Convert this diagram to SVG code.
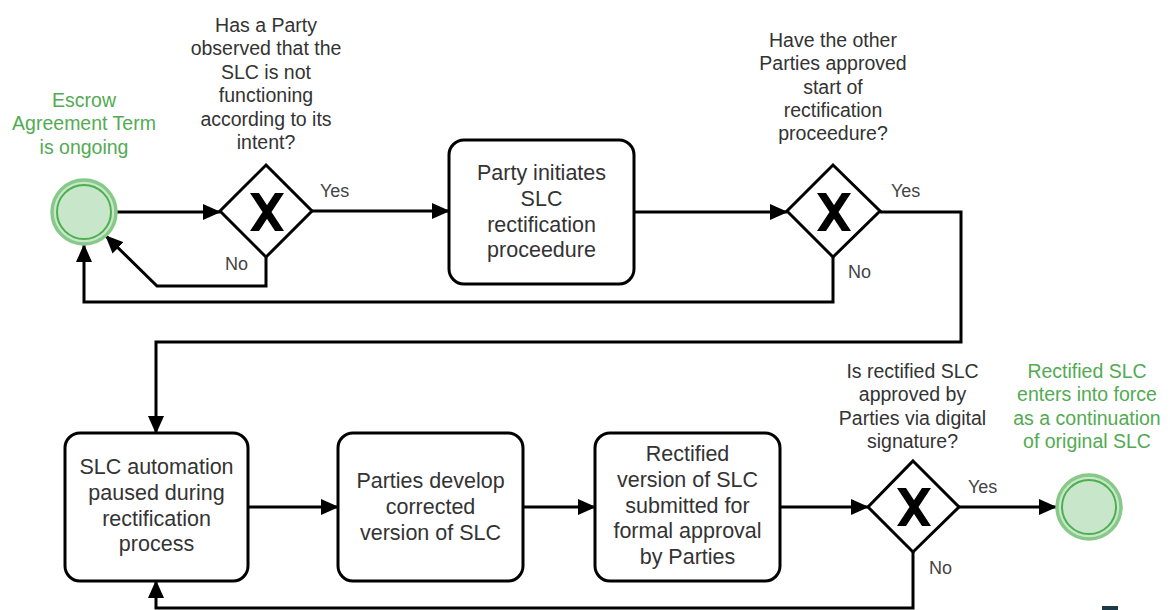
<svg xmlns="http://www.w3.org/2000/svg" width="1170" height="610" viewBox="0 0 1170 610">
  <defs>
    <style>
      .q { font-family: "Liberation Sans", Arial, sans-serif; font-size: 19.5px; fill: #333; text-anchor: middle; }
      .g { font-family: "Liberation Sans", Arial, sans-serif; font-size: 19.5px; fill: #52ab52; text-anchor: middle; }
      .t { font-family: "Liberation Sans", Arial, sans-serif; font-size: 21.5px; fill: #333; text-anchor: middle; }
      .lbl { font-family: "Liberation Sans", Arial, sans-serif; font-size: 18px; fill: #444; }
      .task { fill: #fff; stroke: #000; stroke-width: 3; }
      .gw { fill: #fff; stroke: #000; stroke-width: 3; stroke-linejoin: miter; }
      .ev-out { fill: #c8e6c9; stroke: #86c988; stroke-width: 3.5; }
      .ev-in { fill: #c8e6c9; stroke: #4caf50; stroke-width: 2; }
      .flow { fill: none; stroke: #000; stroke-width: 3; marker-end: url(#arrow); }
    </style>
    <marker id="arrow" markerUnits="userSpaceOnUse" markerWidth="18" markerHeight="16" refX="17" refY="8" orient="auto">
      <path d="M0,0 L18,8 L0,16 Z" fill="#000"/>
    </marker>
    <!-- exclusive gateway marker, centred on 0,0 -->
    <path id="xmark" d="M-17,-19 L-8,-19 L17,19 L8,19 Z M8,-19 L17,-19 L-8,19 L-17,19 Z" fill="#000"/>
  </defs>

  <rect width="1170" height="610" fill="#fff"/>

  <!-- sequence flows -->
  <g id="connectors">
    <path class="flow" d="M117,212 H220"/>
    <path class="flow" d="M312,211 H449"/>
    <path class="flow" d="M266,257 V286 H157 L106,236"/>
    <path class="flow" d="M634,212 H787"/>
    <path class="flow" d="M833,257 V302 H84 V245"/>
    <path class="flow" d="M880,212 H961 V342 H156 V433"/>
    <path class="flow" d="M248,507 H338"/>
    <path class="flow" d="M523,507 H595"/>
    <path class="flow" d="M780,507 H868"/>
    <path class="flow" d="M959,507 H1056"/>
    <path class="flow" d="M913,551 V608 H156 V581"/>
    <text class="lbl" x="320" y="197">Yes</text>
    <text class="lbl" x="225" y="270">No</text>
    <text class="lbl" x="891" y="197">Yes</text>
    <text class="lbl" x="848" y="278">No</text>
    <text class="lbl" x="968" y="493">Yes</text>
    <text class="lbl" x="929" y="574">No</text>
  </g>

  <!-- start event -->
  <g id="start">
    <circle class="ev-out" cx="84" cy="212" r="32"/>
    <circle class="ev-in" cx="84" cy="212" r="27"/>
    <text class="g" x="84" y="107">Escrow</text>
    <text class="g" x="84" y="130.4">Agreement Term</text>
    <text class="g" x="84" y="153.8">is ongoing</text>
  </g>

  <!-- gateway: malfunction observed -->
  <g id="gw-observed">
    <path class="gw" d="M266,165 L312,211 L266,257 L220,211 Z"/>
    <use href="#xmark" x="267" y="212"/>
    <text class="q" x="266" y="32">Has a Party</text>
    <text class="q" x="266" y="55.4">observed that the</text>
    <text class="q" x="266" y="78.8">SLC is not</text>
    <text class="q" x="266" y="102.2">functioning</text>
    <text class="q" x="266" y="125.6">according to its</text>
    <text class="q" x="266" y="149">intent?</text>
  </g>

  <!-- task: initiate rectification -->
  <g id="task-initiate">
    <rect class="task" x="449" y="140" width="185" height="144" rx="15"/>
    <text class="t" x="541.5" y="180">Party initiates</text>
    <text class="t" x="541.5" y="205.8">SLC</text>
    <text class="t" x="541.5" y="231.6">rectification</text>
    <text class="t" x="541.5" y="257.4">proceedure</text>
  </g>

  <!-- gateway: other parties approve -->
  <g id="gw-approve-start">
    <path class="gw" d="M833,165 L880,211 L833,257 L787,211 Z"/>
    <use href="#xmark" x="834" y="212"/>
    <text class="q" x="833" y="46.7">Have the other</text>
    <text class="q" x="833" y="70.1">Parties approved</text>
    <text class="q" x="833" y="93.5">start of</text>
    <text class="q" x="833" y="116.9">rectification</text>
    <text class="q" x="833" y="140.3">proceedure?</text>
  </g>

  <!-- task: automation paused -->
  <g id="task-paused">
    <rect class="task" x="65" y="433" width="183" height="148" rx="15"/>
    <text class="t" x="156.5" y="474">SLC automation</text>
    <text class="t" x="156.5" y="499.8">paused during</text>
    <text class="t" x="156.5" y="525.6">rectification</text>
    <text class="t" x="156.5" y="551.4">process</text>
  </g>

  <!-- task: develop corrected version -->
  <g id="task-develop">
    <rect class="task" x="338" y="433" width="185" height="148" rx="15"/>
    <text class="t" x="430.5" y="488">Parties develop</text>
    <text class="t" x="430.5" y="513.8">corrected</text>
    <text class="t" x="430.5" y="539.6">version of SLC</text>
  </g>

  <!-- task: submit for approval -->
  <g id="task-submit">
    <rect class="task" x="595" y="433" width="185" height="148" rx="15"/>
    <text class="t" x="687.5" y="461">Rectified</text>
    <text class="t" x="687.5" y="486.8">version of SLC</text>
    <text class="t" x="687.5" y="512.6">submitted for</text>
    <text class="t" x="687.5" y="538.4">formal approval</text>
    <text class="t" x="687.5" y="564.2">by Parties</text>
  </g>

  <!-- gateway: signature approval -->
  <g id="gw-signature">
    <path class="gw" d="M913,461 L959,507 L913,552 L868,507 Z"/>
    <use href="#xmark" x="914" y="507"/>
    <text class="q" x="912.5" y="378">Is rectified SLC</text>
    <text class="q" x="912.5" y="401.4">approved by</text>
    <text class="q" x="912.5" y="424.8">Parties via digital</text>
    <text class="q" x="912.5" y="448.2">signature?</text>
  </g>

  <!-- end event -->
  <g id="end">
    <circle class="ev-out" cx="1089" cy="507" r="32"/>
    <circle class="ev-in" cx="1089" cy="507" r="27"/>
    <text class="g" x="1087" y="378">Rectified SLC</text>
    <text class="g" x="1087" y="401.4">enters into force</text>
    <text class="g" x="1087" y="424.8">as a continuation</text>
    <text class="g" x="1087" y="448.2">of original SLC</text>
  </g>

  <rect x="1102" y="606" width="16" height="4" fill="#1b3a45"/>
</svg>
